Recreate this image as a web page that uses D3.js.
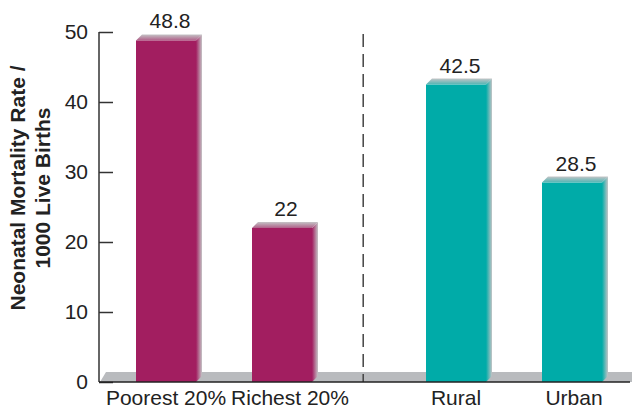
<!DOCTYPE html>
<html>
<head>
<meta charset="utf-8">
<script src="https://cdn.jsdelivr.net/npm/d3@7"></script>
<style>
  html, body { margin: 0; padding: 0; background: #fff; }
  svg { display: block; font-family: "Liberation Sans", Arial, sans-serif; }
</style>
</head>
<body>
<svg id="chart" width="633" height="410"></svg>
<script>
// ---- data ----
const categories = ["Poorest 20%", "Richest 20%", "Rural", "Urban"];
const values = [48.8, 22, 42.5, 28.5];
const valueLabels = ["48.8", "22", "42.5", "28.5"];
const groups = ["wealth", "wealth", "residence", "residence"];
const slots = [0, 1, 2.5, 3.5];          // horizontal slot index (gap between groups)
const yTicks = [0, 10, 20, 30, 40, 50];
const yTitle = ["Neonatal Mortality Rate /", "1000 Live Births"];

// ---- layout ----
const svg = d3.select("#chart");
const axisX = 99, baseY = 382, topY = 32;
const barW = 60, depth = 6;
const colors = { wealth: "#a21e60", residence: "#00aba8" };

const y = d3.scaleLinear().domain([0, 50]).range([baseY, topY]);
const x = d3.scaleLinear().domain([0, 3.5]).range([166, 572]);

// gradients
const defs = svg.append("defs");
Object.entries(colors).forEach(([k, c]) => {
  const side = defs.append("linearGradient").attr("id", "side-" + k)
    .attr("x1", 0).attr("x2", 1).attr("y1", 0).attr("y2", 0);
  side.append("stop").attr("offset", "0%").attr("stop-color", c);
  side.append("stop").attr("offset", "100%").attr("stop-color", "#c4c4c6");
  const top = defs.append("linearGradient").attr("id", "top-" + k)
    .attr("x1", 0).attr("x2", 0).attr("y1", 0).attr("y2", 1);
  top.append("stop").attr("offset", "0%").attr("stop-color", "#c4c4c6");
  top.append("stop").attr("offset", "100%").attr("stop-color", d3.interpolateRgb("#c4c4c6", c)(0.6));
});

// floor
svg.append("path")
  .attr("d", `M${axisX + 1},${baseY} L${axisX + 7},${baseY - 10} L632,${baseY - 10} L632,${baseY} Z`)
  .attr("fill", "#b9bbbe");

// bars
const data = categories.map((c, i) => ({ c, v: values[i], lab: valueLabels[i], g: groups[i], s: slots[i] }));
const bars = svg.append("g").selectAll("g").data(data).join("g");

bars.append("rect")
  .attr("x", d => x(d.s) - barW / 2)
  .attr("y", d => y(d.v))
  .attr("width", barW)
  .attr("height", d => baseY - y(d.v))
  .attr("fill", d => colors[d.g]);

bars.append("path")
  .attr("d", d => {
    const x1 = x(d.s) + barW / 2, yt = y(d.v);
    return `M${x1},${yt} L${x1 + depth},${yt - depth} L${x1 + depth},${baseY - depth} L${x1},${baseY} Z`;
  })
  .attr("fill", d => `url(#side-${d.g})`);

bars.append("path")
  .attr("d", d => {
    const x0 = x(d.s) - barW / 2, x1 = x(d.s) + barW / 2, yt = y(d.v);
    return `M${x0},${yt} L${x0 + depth},${yt - depth} L${x1 + depth},${yt - depth} L${x1},${yt} Z`;
  })
  .attr("fill", d => `url(#top-${d.g})`);

// value labels
bars.append("text")
  .attr("x", d => x(d.s) + depth / 2 + 1)
  .attr("y", d => y(d.v) - depth - 6)
  .attr("text-anchor", "middle")
  .attr("font-size", 21)
  .attr("fill", "#222")
  .text(d => d.lab);

// category labels
const labelShift = [0, 8, 0, 2];
svg.append("g").selectAll("text").data(data).join("text")
  .attr("x", (d, i) => x(d.s) + labelShift[i])
  .attr("y", 405)
  .attr("text-anchor", "middle")
  .attr("font-size", 21)
  .attr("fill", "#222")
  .text(d => d.c);

// divider
svg.append("line")
  .attr("x1", x(1.7)).attr("x2", x(1.7))
  .attr("y1", topY + 2).attr("y2", baseY)
  .attr("stroke", "#444").attr("stroke-width", 1.5)
  .attr("stroke-dasharray", "13,7");

// y axis
const yAxis = d3.axisRight(y).tickValues(yTicks).tickSize(14).tickFormat("");
const ga = svg.append("g").attr("transform", `translate(${axisX},0)`).call(yAxis);
ga.select(".domain").remove();
ga.selectAll(".tick line").attr("stroke", "#333").attr("stroke-width", 1.5);
svg.append("line").attr("x1", axisX).attr("x2", axisX).attr("y1", topY).attr("y2", baseY)
  .attr("stroke", "#333").attr("stroke-width", 1.5);
svg.append("line").attr("x1", axisX).attr("x2", 630).attr("y1", baseY).attr("y2", baseY)
  .attr("stroke", "#222").attr("stroke-width", 1.6);

svg.append("g").selectAll("text").data(yTicks).join("text")
  .attr("x", 88).attr("y", d => y(d)).attr("dy", "0.35em")
  .attr("text-anchor", "end").attr("font-size", 21).attr("fill", "#222")
  .text(d => d);

// y title
const t = svg.append("text")
  .attr("transform", "translate(25,188) rotate(-90)")
  .attr("text-anchor", "middle").attr("font-size", 21).attr("font-weight", "bold").attr("fill", "#222");
yTitle.forEach((line, i) => t.append("tspan").attr("x", 0).attr("dy", i === 0 ? 0 : 25).text(line));
</script>
</body>
</html>
